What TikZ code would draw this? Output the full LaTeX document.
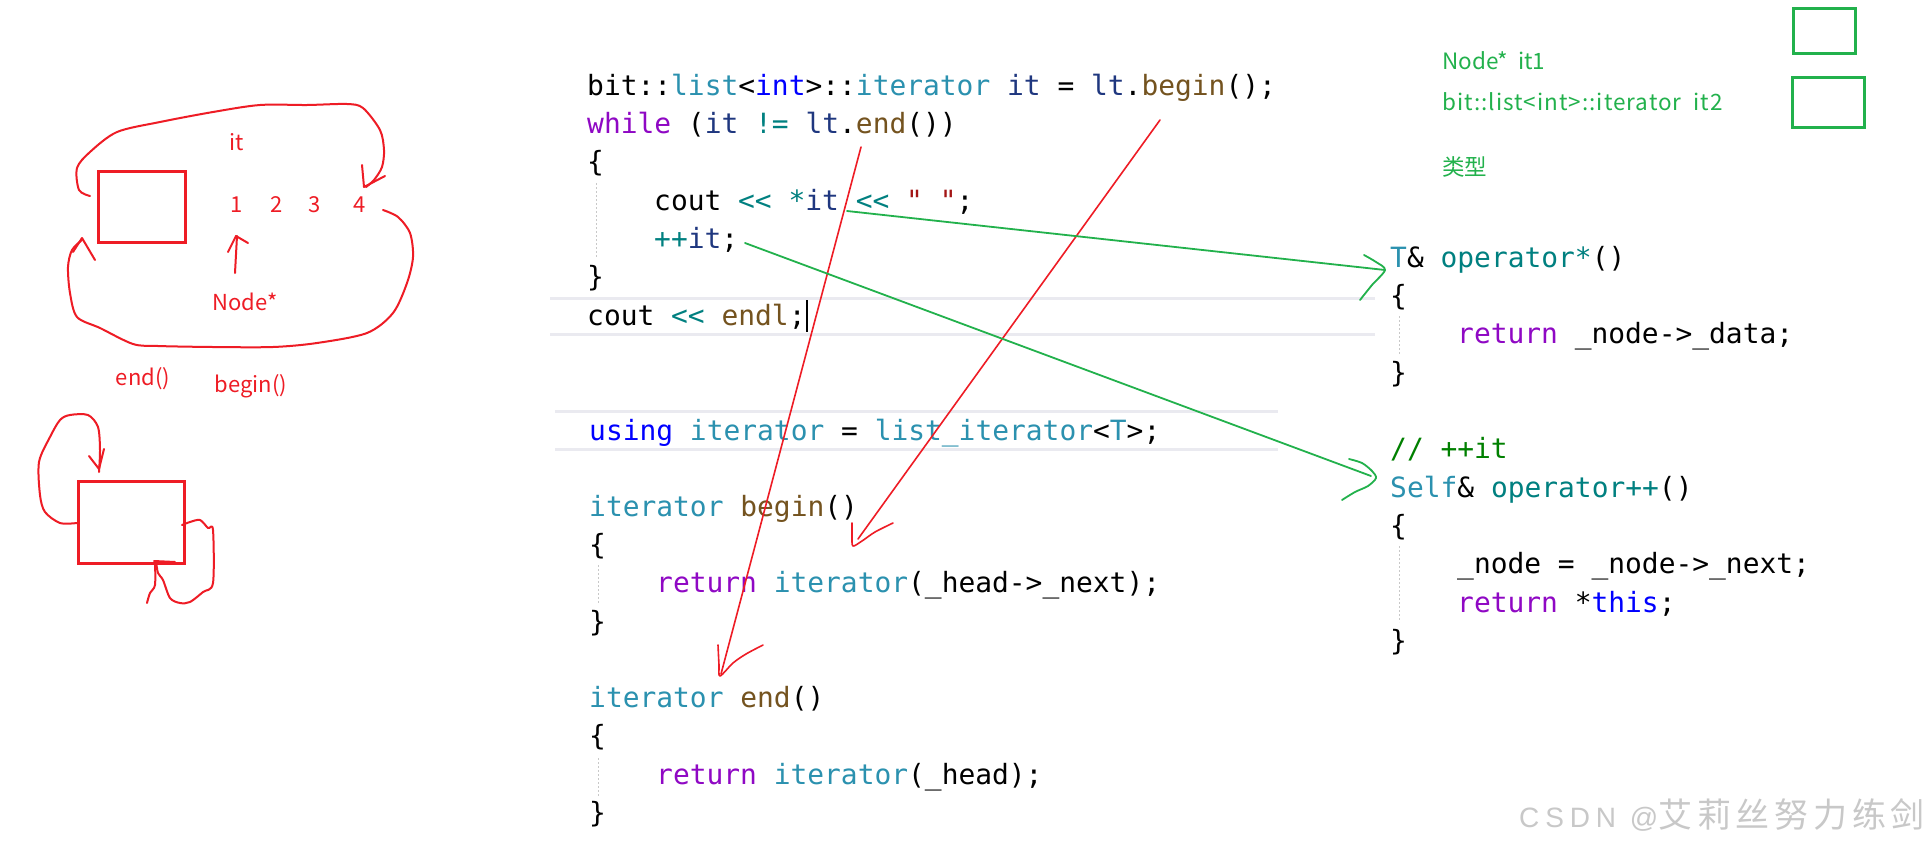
\documentclass[tikz,border=0pt]{standalone}
\usepackage{fontspec}
\setmonofont{DejaVu Sans Mono}
\newfontfamily\cjk{Noto Sans CJK SC}
\newfontfamily\cjkwide{Noto Sans CJK SC}[LetterSpace=4.5]
\newfontfamily\wmcjk{Noto Sans CJK SC}[LetterSpace=14]
\newfontfamily\wmlat{Liberation Sans}[LetterSpace=21]
\definecolor{typeteal}{HTML}{2B91AF}
\definecolor{kwblue}{HTML}{0000FF}
\definecolor{varblue}{HTML}{1F377F}
\definecolor{fnbrown}{HTML}{74531F}
\definecolor{kwpurple}{HTML}{8F08C4}
\definecolor{opteal}{HTML}{008080}
\definecolor{strred}{HTML}{A31515}
\definecolor{cmtgreen}{HTML}{008000}
\definecolor{annred}{HTML}{EE1C25}
\definecolor{anngreen}{HTML}{22B14C}
\definecolor{guidegray}{HTML}{C8C8C8}
\definecolor{sepgray}{HTML}{EAEAF0}
\definecolor{wmgray}{HTML}{C8C8C8}
\newcommand\zty[1]{\textcolor{typeteal}{#1}}
\newcommand\zkw[1]{\textcolor{kwblue}{#1}}
\newcommand\zvr[1]{\textcolor{varblue}{#1}}
\newcommand\zfn[1]{\textcolor{fnbrown}{#1}}
\newcommand\zpk[1]{\textcolor{kwpurple}{#1}}
\newcommand\zop[1]{\textcolor{opteal}{#1}}
\newcommand\zst[1]{\textcolor{strred}{#1}}
\newcommand\zcm[1]{\textcolor{cmtgreen}{#1}}
\begin{document}
\begin{tikzpicture}[x=1pt,y=-1pt,
  code/.style={anchor=base west,inner sep=0pt,font=\ttfamily\fontsize{27.9}{34}\selectfont},
  redpen/.style={draw=annred,line width=2pt,line cap=round,line join=round},
  greenpen/.style={draw=anngreen,line width=1.8pt,line cap=round,line join=round},
  redtxt/.style={inner sep=0pt,text=annred,font=\cjk\fontsize{22}{26}\selectfont},
  greentxt/.style={anchor=west,inner sep=0pt,text=anngreen,font=\cjk\fontsize{22.5}{26}\selectfont},
  sepline/.style={draw=sepgray,line width=3pt},
  guide/.style={draw=guidegray,line width=1pt,dash pattern=on 2pt off 2pt},
  wmark/.style={anchor=west,inner sep=0pt,text=wmgray}]
\useasboundingbox[fill=white] (0,0) rectangle (1926,854);

% editor separator lines
\draw[sepline] (550,298) -- (1375,298);
\draw[sepline] (550,334) -- (1375,334);
\draw[sepline] (555,411) -- (1278,411);
\draw[sepline] (555,449) -- (1278,449);

% indent guides
\draw[guide] (596,183) -- (596,258);
\draw[guide] (598,565) -- (598,604);
\draw[guide] (598,758) -- (598,796);
\draw[guide] (1399,316) -- (1399,354);
\draw[guide] (1399,546) -- (1399,622);

% block 1
\node[code] (c1) at (587,95) {bit::\zty{list}<\zkw{int}>::\zty{iterator} \zvr{it} = \zvr{lt}.\zfn{begin}();};
\node[code] (c2) at (587,133.3) {\zpk{while} (\zvr{it} \zop{!=} \zvr{lt}.\zfn{end}())};
\node[code] (c3) at (587,171.6) {\{};
\node[code] (c4) at (654,210) {cout \zop{<<} \zop{*}\zvr{it} \zop{<<} \zst{" "};};
\node[code] (c5) at (654,248) {\zop{++}\zvr{it};};
\node[code] (c6) at (587,286.5) {\}};
\node[code] (c7) at (587,325) {cout \zop{<<} \zfn{endl};};
\draw[black,line width=1.3pt] (807,300) -- (807,332);

% block 2
\node[code] (d1) at (589,440) {\zkw{using} \zty{iterator} = \zty{list\_iterator}<\zty{T}>;};
\node[code] (d2) at (589,516) {\zty{iterator} \zfn{begin}()};
\node[code] (d3) at (589,554) {\{};
\node[code] (d4) at (656,592) {\zpk{return} \zty{iterator}(\_head->\_next);};
\node[code] (d5) at (589,631) {\}};
\node[code] (d6) at (589,707.5) {\zty{iterator} \zfn{end}()};
\node[code] (d7) at (589,745.8) {\{};
\node[code] (d8) at (656,784) {\zpk{return} \zty{iterator}(\_head);};
\node[code] (d9) at (589,822) {\}};

% block 3
\node[code] (e1) at (1390,267) {\zty{T}\& \zop{operator*}()};
\node[code] (e2) at (1390,305) {\{};
\node[code] (e3) at (1457,343) {\zpk{return} \_node->\_data;};
\node[code] (e4) at (1390,382) {\}};
\node[code] (e5) at (1390,458) {\zcm{// ++it}};
\node[code] (e6) at (1390,497) {\zty{Self}\& \zop{operator++}()};
\node[code] (e7) at (1390,535) {\{};
\node[code] (e8) at (1457,573) {\_node = \_node->\_next;};
\node[code] (e9) at (1457,612) {\zpk{return} *\zkw{this};};
\node[code] (e10) at (1390,650) {\}};

% top-left red sketch
\node[draw=annred,line width=3pt,minimum width=87pt,minimum height=71pt,inner sep=0pt] (headbox) at (141.5,206.5) {};
\node[redtxt] (tit) at (237,142) {it};
\node[redtxt] (n1) at (237,205) {1};
\node[redtxt] (n2) at (277,205) {2};
\node[redtxt] (n3) at (315,205) {3};
\node[redtxt] (n4) at (360,205) {4};
\node[redtxt] (tnode) at (245,302) {Node*};
\node[redtxt] (tend) at (143,379) {end()};
\node[redtxt] (tbegin) at (251,386) {begin()};
\draw[redpen] plot[smooth,tension=0.5] coordinates {(90,196) (79,190) (77,168) (90,152) (117,132) (160,122) (213,112) (260,105) (307,105) (347,104) (363,108) (380,130) (384,150) (382,167) (374,180) (366,187)};
\draw[redpen] (362,165) -- (364,187) -- (385,176);
\draw[redpen] plot[smooth,tension=0.5] coordinates {(383,210) (398,217) (410,233) (413,257) (407,283) (393,313) (367,333) (317,343) (273,347) (213,347) (158,346) (133,344) (100,328) (77,317) (70,293) (68,267) (72,250) (82,240)};
\draw[redpen] (73,252) -- (82,238) -- (95,260);
\draw[redpen] (235,273) -- (237,236);
\draw[redpen] (228,252) -- (236,236) -- (248,243);

% lower-left red sketch
\node[draw=annred,line width=3pt,minimum width=106pt,minimum height=82pt,inner sep=0pt] (selfbox) at (131,522) {};
\draw[redpen] plot[smooth,tension=0.5] coordinates {(77,523) (60,523) (45,512) (40,495) (39,462) (50,437) (60,420) (70,415) (88,415) (98,427) (100,450) (99,472)};
\draw[redpen] (89,456) -- (99,469) -- (104,449);
\draw[redpen] plot[smooth,tension=0.5] coordinates {(182,525) (190,522) (200,520) (208,528) (213,530) (213,583) (203,592) (190,602) (180,603) (170,598) (163,580) (158,573) (156,561)};
\draw[redpen] (154,561) -- (175,562);
\draw[redpen] plot[smooth,tension=0.5] coordinates {(155,562) (155,585) (150,593) (147,603)};

% red arrows in the code
\coordinate (endFrom) at (861,147);
\coordinate (endTip) at (721,674);
\coordinate (beginFrom) at (1160,120);
\coordinate (beginTip) at (858,539);
\draw[redpen,line width=1.6pt] (endFrom) -- (endTip);
\draw[redpen,line width=1.6pt] plot[smooth,tension=0.5] coordinates {(718,645) (719,665) (720,676) (733,663) (746,654) (763,645)};
\draw[redpen,line width=1.6pt] (beginFrom) -- (beginTip);
\draw[redpen,line width=1.6pt] plot[smooth,tension=0.5] coordinates {(852,523) (852,537) (853,546) (862,541) (875,532) (893,523)};

% green arrows
\coordinate (derefFrom) at (847,211);
\coordinate (derefTip) at (1385,270);
\coordinate (incFrom) at (745,243);
\coordinate (incTip) at (1371,476);
\draw[greenpen] (derefFrom) -- (derefTip);
\draw[greenpen] plot[smooth,tension=0.5] coordinates {(1364,255) (1376,262) (1385,270) (1372,285) (1360,300)};
\draw[greenpen] (incFrom) -- (incTip);
\draw[greenpen] plot[smooth,tension=0.5] coordinates {(1349,459) (1362,463) (1372,471) (1376,478) (1368,486) (1355,492) (1342,500)};

% top-right green notes
\node[greentxt] (g1) at (1442,61) {Node*\ \ it1};
\node[greentxt,font=\cjkwide\fontsize{22.5}{26}\selectfont] (g2) at (1442,102) {bit::list<int>::iterator\ \ it2};
\node[greentxt] (g3) at (1442,167) {类型};
\node[draw=anngreen,line width=3pt,minimum width=62pt,minimum height=45pt,inner sep=0pt] (gbox1) at (1824,30.5) {};
\node[draw=anngreen,line width=3pt,minimum width=72pt,minimum height=50pt,inner sep=0pt] (gbox2) at (1828,102) {};

% watermark
\node[wmark] (wm) at (1519,815) {{\wmlat\fontsize{28}{34}\selectfont CSDN @}{\wmcjk\fontsize{34}{40}\selectfont 艾莉丝努力练剑}};
\end{tikzpicture}
\end{document}
